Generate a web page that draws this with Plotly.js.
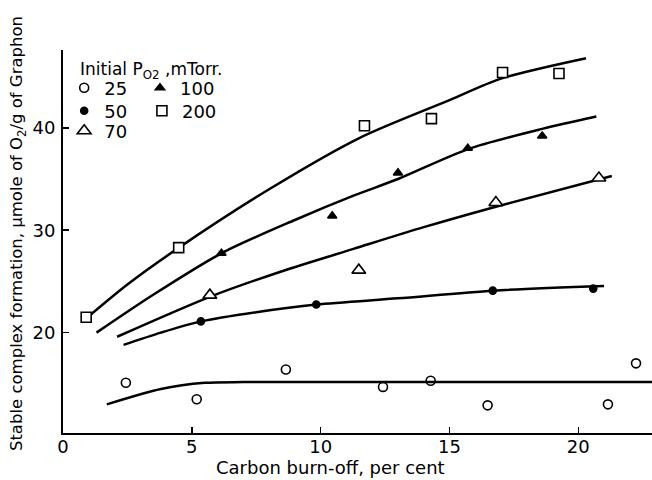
<!DOCTYPE html>
<html>
<head>
<meta charset="utf-8">
<script src="https://cdn.plot.ly/plotly-3.0.1.min.js"></script>
<style>html,body{margin:0;padding:0;background:#fff;}#chart{width:652px;height:480px;}</style>
</head>
<body>
<div id="chart"></div>
<script>
// ---- data ----
// Measured points (Carbon burn-off %, µmole O2 / g)
const p25_x  = [2.44, 5.19, 8.65, 12.42, 14.27, 16.48, 21.15, 22.24];
const p25_y  = [15.1, 13.5, 16.4, 14.7, 15.3, 12.9, 13.0, 17.0];
const p50_x  = [5.35, 9.83, 16.68, 20.58];
const p50_y  = [21.1, 22.75, 24.1, 24.3];
const p70_x  = [5.7, 11.48, 16.8, 20.8];
const p70_y  = [23.66, 26.1, 32.7, 35.1];
const p100_x = [6.15, 10.45, 13.0, 15.71, 18.6];
const p100_y = [27.75, 31.4, 35.6, 38.0, 39.2];
const p200_x = [0.9, 4.49, 11.7, 14.3, 17.06, 19.25];
const p200_y = [21.5, 28.3, 40.2, 40.9, 45.4, 45.3];

// Smoothed curves as drawn in the figure
const c25_x  = [1.7, 3.8, 5.5, 7.0, 12.0, 17.0, 22.86];
const c25_y  = [13.0, 14.5, 15.1, 15.17, 15.17, 15.17, 15.17];
const c50_x  = [2.35, 3.8, 5.35, 7.5, 9.83, 13.0, 16.7, 21.0];
const c50_y  = [18.8, 20.0, 21.1, 22.0, 22.75, 23.35, 24.1, 24.55];
const c70_x  = [2.1, 5.7, 8.5, 11.3, 14.0, 16.8, 21.3];
const c70_y  = [19.6, 23.5, 26.0, 28.2, 30.3, 32.3, 35.3];
const c100_x = [1.3, 3.5, 6.15, 9.0, 11.3, 13.0, 15.7, 18.6, 20.7];
const c100_y = [20.0, 23.7, 27.75, 31.0, 33.4, 35.0, 37.9, 39.9, 41.1];
const c200_x = [1.0, 2.5, 4.5, 8.0, 11.5, 15.0, 17.0, 20.3];
const c200_y = [21.6, 24.7, 28.3, 34.0, 39.0, 42.7, 44.8, 46.8];

const xTicks = [0, 5, 10, 15, 20];
const yTicks = [20, 30, 40];
const legendNames = ['25', '50', '70', '100', '200'];

const FONT = 'DejaVu Sans, Liberation Sans, sans-serif';
const BLACK = '#000';

function curve(x, y) {
  return {x: x, y: y, type: 'scatter', mode: 'lines', showlegend: false, hoverinfo: 'skip',
          line: {color: BLACK, width: 2.5, shape: 'spline', smoothing: 0.8}};
}
function pts(x, y, name, symbol, size, fill, legend) {
  return {x: x, y: y, type: 'scatter', mode: 'markers', name: name, legend: legend,
          marker: {symbol: symbol, size: size, color: fill, line: {color: BLACK, width: 1.6}}};
}

const data = [
  curve(c25_x, c25_y), curve(c50_x, c50_y), curve(c70_x, c70_y), curve(c100_x, c100_y), curve(c200_x, c200_y),
  pts(p25_x,  p25_y,  legendNames[0], 'circle-open', 9, BLACK, 'legend'),
  pts(p50_x,  p50_y,  legendNames[1], 'circle', 7, BLACK, 'legend2'),
  pts(p70_x,  p70_y,  legendNames[2], 'triangle-up', 12, '#fff', 'legend3'),
  pts(p100_x, p100_y, legendNames[3], 'triangle-up', 8, BLACK, 'legend4'),
  pts(p200_x, p200_y, legendNames[4], 'square', 10, '#fff', 'legend5')
];

const axisCommon = {
  showline: true, linecolor: BLACK, linewidth: 2, mirror: false,
  showgrid: false, zeroline: false, ticks: 'inside', ticklen: 6, tickwidth: 1.5, tickcolor: BLACK,
  tickfont: {family: FONT, size: 18, color: BLACK}, fixedrange: true
};

function leg(x, y) {
  return {x: x, y: y, xanchor: 'left', yanchor: 'middle', bgcolor: 'rgba(0,0,0,0)',
          orientation: 'v', itemwidth: 30, borderwidth: 0,
          font: {family: FONT, size: 18, color: BLACK}};
}

const layout = {
  width: 652, height: 480,
  margin: {l: 63, r: 0, t: 50, b: 47},
  paper_bgcolor: '#fff', plot_bgcolor: '#fff',
  font: {family: FONT, color: BLACK},
  xaxis: Object.assign({}, axisCommon, {range: [0, 22.86], tickvals: xTicks, ticktext: xTicks.map(String), ticklabelstandoff: -4}),
  yaxis: Object.assign({}, axisCommon, {range: [10.2, 47.6], tickvals: yTicks, ticktext: yTicks.map(String), ticklabelstandoff: 2}),
  legend:  leg(0.002, 0.9008),
  legend2: leg(0.002, 0.8407),
  legend3: leg(0.002, 0.7885),
  legend4: leg(0.1307, 0.9008),
  legend5: leg(0.134, 0.8407),
  annotations: [
    {text: 'Initial P<sub>O2</sub> ,mTorr.', xref: 'paper', yref: 'paper', x: 0.0255, y: 0.9452,
     xanchor: 'left', yanchor: 'middle', showarrow: false, font: {family: FONT, size: 17, color: BLACK}},
    {text: 'Carbon burn-off, per cent', xref: 'paper', yref: 'paper', x: 0.455, y: -0.09,
     xanchor: 'center', yanchor: 'middle', showarrow: false, font: {family: FONT, size: 18, color: BLACK}},
    {text: 'Stable complex formation, \u00b5mole of O<sub>2</sub>/g of Graphon', xref: 'paper', yref: 'paper',
     x: -0.076, y: 0.52, textangle: -90, xanchor: 'center', yanchor: 'middle', showarrow: false,
     font: {family: FONT, size: 16.5, color: BLACK}}
  ]
};

Plotly.newPlot('chart', data, layout, {staticPlot: true, displayModeBar: false});
</script>
</body>
</html>
